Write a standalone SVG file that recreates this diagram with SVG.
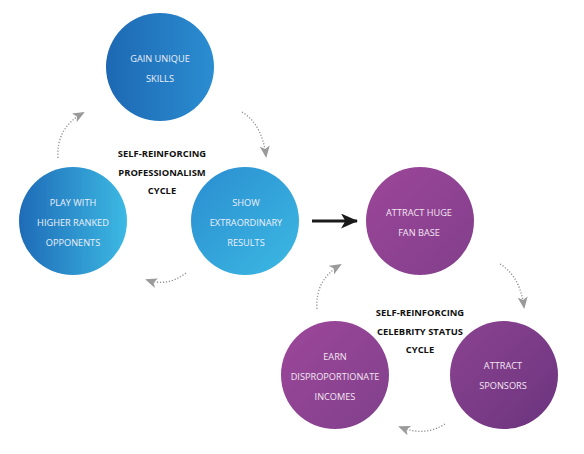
<svg xmlns="http://www.w3.org/2000/svg" width="584" height="454" viewBox="0 0 584 454">
<defs>
<linearGradient id="gTop" x1="0" y1="0" x2="1" y2="0"><stop offset="0" stop-color="#1d68b3"/><stop offset="1" stop-color="#2b8dd1"/></linearGradient>
<linearGradient id="gLeft" x1="0" y1="0" x2="1" y2="0"><stop offset="0" stop-color="#1e6bb7"/><stop offset="1" stop-color="#3cb9e3"/></linearGradient>
<linearGradient id="gShow" x1="0" y1="0" x2="1" y2="1"><stop offset="0" stop-color="#2a8dd0"/><stop offset="1" stop-color="#3cb9e3"/></linearGradient>
<linearGradient id="gFan" x1="0" y1="0" x2="1" y2="1"><stop offset="0" stop-color="#9c4698"/><stop offset="1" stop-color="#823f8c"/></linearGradient>
<linearGradient id="gEarn" x1="0" y1="0" x2="1" y2="1"><stop offset="0" stop-color="#9d4799"/><stop offset="1" stop-color="#80408c"/></linearGradient>
<linearGradient id="gSpon" x1="0" y1="0" x2="1" y2="1"><stop offset="0" stop-color="#8b4391"/><stop offset="1" stop-color="#6c347e"/></linearGradient>
<marker id="ga" viewBox="0 0 12 10" refX="10" refY="5" markerWidth="12" markerHeight="10" markerUnits="userSpaceOnUse" orient="auto">
<path d="M0,0 L12,5 L0,10 L3,5 z" fill="#9a9a9a"/>
</marker>
<marker id="ba" viewBox="0 0 16 14" refX="15" refY="7" markerWidth="17" markerHeight="15" markerUnits="userSpaceOnUse" orient="auto">
<path d="M0,0 L16,7 L0,14 L4,7 z" fill="#1a1a1a"/>
</marker>
</defs>
<style>
.lbl{font-family:"Open Sans","Noto Sans",sans-serif;font-size:9.2px;fill:#eef0f8;text-anchor:middle}
.plbl{font-family:"Open Sans","Noto Sans",sans-serif;font-size:9.2px;fill:#f3e6f2;text-anchor:middle}
.cyc{font-family:"Open Sans","Noto Sans",sans-serif;font-size:9.4px;font-weight:bold;fill:#111;text-anchor:middle}
.dot{fill:none;stroke:#8c8c8c;stroke-width:1.3;stroke-dasharray:1.2 1.8;marker-end:url(#ga)}
</style>
<rect width="584" height="454" fill="#ffffff"/>
<g id="connectors">
<path class="dot" d="M242,112 Q262,124 266,156"/>
<path class="dot" d="M186,273 Q168,287 147,280"/>
<path class="dot" d="M58,158 Q56,128 83,113"/>
<path class="dot" d="M500,264 Q520,276 524,307"/>
<path class="dot" d="M445,424 Q425,437 400,427"/>
<path class="dot" d="M317,309 Q315,280 340,265"/>
<path d="M312,221 L357,221" stroke="#1a1a1a" stroke-width="3" fill="none" marker-end="url(#ba)"/>
</g>
<g id="gain-skills">
<circle cx="160" cy="67" r="54" fill="url(#gTop)"/>
<text class="lbl" x="160" y="62">GAIN UNIQUE</text>
<text class="lbl" x="160" y="82">SKILLS</text>
</g>
<g id="play-higher">
<circle cx="73" cy="221" r="54" fill="url(#gLeft)"/>
<text class="lbl" x="73" y="206">PLAY WITH</text>
<text class="lbl" x="73" y="226">HIGHER RANKED</text>
<text class="lbl" x="73" y="246">OPPONENTS</text>
</g>
<g id="show-results">
<circle cx="245" cy="221" r="54" fill="url(#gShow)"/>
<text class="lbl" x="246" y="206">SHOW</text>
<text class="lbl" x="246" y="226">EXTRAORDINARY</text>
<text class="lbl" x="246" y="246">RESULTS</text>
</g>
<g id="professionalism-cycle">
<text class="cyc" x="162" y="157">SELF-REINFORCING</text>
<text class="cyc" x="162" y="176">PROFESSIONALISM</text>
<text class="cyc" x="162" y="194">CYCLE</text>
</g>
<g id="fan-base">
<circle cx="420" cy="221" r="54" fill="url(#gFan)"/>
<text class="plbl" x="419" y="216">ATTRACT HUGE</text>
<text class="plbl" x="419" y="236">FAN BASE</text>
</g>
<g id="earn-incomes">
<circle cx="335" cy="375" r="54" fill="url(#gEarn)"/>
<text class="plbl" x="335" y="360">EARN</text>
<text class="plbl" x="335" y="380">DISPROPORTIONATE</text>
<text class="plbl" x="335" y="400">INCOMES</text>
</g>
<g id="attract-sponsors">
<circle cx="504" cy="375" r="54" fill="url(#gSpon)"/>
<text class="plbl" x="503" y="369">ATTRACT</text>
<text class="plbl" x="503" y="389">SPONSORS</text>
</g>
<g id="celebrity-cycle">
<text class="cyc" x="420" y="316">SELF-REINFORCING</text>
<text class="cyc" x="420" y="335">CELEBRITY STATUS</text>
<text class="cyc" x="420" y="353">CYCLE</text>
</g>
</svg>
